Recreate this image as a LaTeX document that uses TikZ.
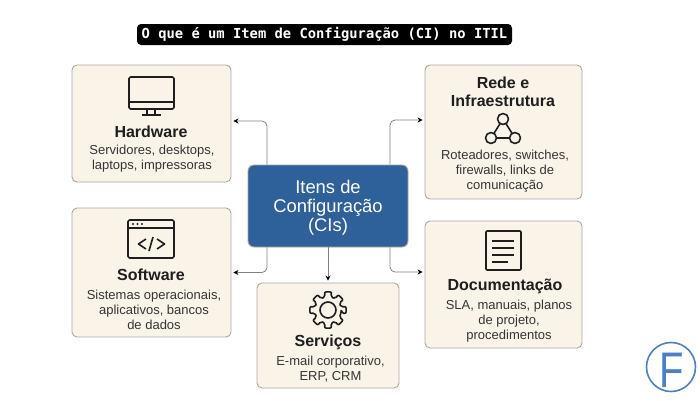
\documentclass[tikz,border=0pt]{standalone}
\usepackage{fontspec}
\setmainfont{Liberation Sans}
\newfontfamily\titlefont{DejaVu Sans Mono}
\usepackage{xcolor}
\usetikzlibrary{arrows.meta}
\definecolor{boxfill}{HTML}{FAF3E8}
\definecolor{boxline}{HTML}{A8A8A4}
\definecolor{ciblue}{HTML}{2E6099}
\definecolor{logoblue}{HTML}{4A80C8}
\definecolor{inkcol}{HTML}{1E1E1E}
\begin{document}
\begin{tikzpicture}[
  x=1pt, y=-1pt,
  box/.style={draw=boxline, fill=boxfill, rounded corners=5pt, line width=.9pt, inner sep=0pt},
  ci/.style={draw=boxline, fill=ciblue, rounded corners=6pt, line width=.9pt, inner sep=0pt},
  citext/.style={text=white, align=center, font=\fontsize{18.4}{19}\selectfont},
  head/.style={align=center, text=inkcol, font=\fontsize{16}{18}\selectfont\bfseries},
  body/.style={align=center, text=inkcol!90, font=\fontsize{13}{15.2}\selectfont},
  icon/.style={draw=inkcol, line width=1.6pt, line join=round},
  arr/.style={-{Stealth[length=5pt,width=5pt,black]}, draw=black!50, line width=.8pt,
              rounded corners=5pt, shorten >=2pt},
]
\useasboundingbox (0,0) rectangle (700,400);
\node[fill=black, rounded corners=4pt, text=white, minimum width=375pt, minimum height=21pt,
      inner sep=0pt, font=\titlefont\fontsize{13.8}{16}\selectfont\bfseries] (title) at (324.5,34.5)
  {O que é um Item de Configuração (CI) no ITIL};
\node[box, minimum width=159pt, minimum height=117pt] (hw) at (151.5,123.5) {};
\node[box, minimum width=157pt, minimum height=134pt] (net) at (503.5,132) {};
\node[box, minimum width=159pt, minimum height=129pt] (sw) at (151.5,272.5) {};
\node[box, minimum width=157pt, minimum height=127pt] (doc) at (503.5,284.5) {};
\node[box, minimum width=142pt, minimum height=105pt] (svc) at (328,335.5) {};
\node[ci, minimum width=160pt, minimum height=82pt] (cis) at (328,206) {};
\node[citext] (cistext) at (328,208) {Itens de\\Configuração\\(CIs)};
\node[head] (hwhead) at (151,132) {Hardware};
\node[body] (hwbody) at (152,158.5) {Servidores, desktops,\\laptops, impressoras};
\node[head] (nethead) at (503,92) {Rede e\\Infraestrutura};
\node[body] (netbody) at (505,171) {Roteadores, switches,\\firewalls, links de\\comunicação};
\node[head] (swhead) at (151,275) {Software};
\node[body] (swbody) at (154,310) {Sistemas operacionais,\\aplicativos, bancos\\de dados};
\node[head] (svchead) at (328,342) {Serviços};
\node[body] (svcbody) at (330.5,369.5) {E-mail corporativo,\\ERP, CRM};
\node[head] (dochead) at (505,286) {Documentação};
\node[body] (docbody) at (509,321) {SLA, manuais, planos\\de projeto,\\procedimentos};
\draw[arr] ([xshift=-61pt]cis.north) |- ([yshift=2.5pt]hw.east);
\draw[arr] ([xshift=62pt]cis.north) |- ([yshift=12pt]net.west);
\draw[arr] ([xshift=-61pt]cis.south) |- (sw.east);
\draw[arr] ([xshift=62pt]cis.south) |- ([yshift=12.5pt]doc.west);
\draw[arr] (cis.south) -- (svc.north);
\draw[icon, rounded corners=1.5pt] (129,77) rectangle (174,109);
\draw[icon] (129,102) -- (174,102) (147,109) -- (147,115) (155,109) -- (155,115) (142,115) -- (161,115);
\draw[icon] (491,138) -- (503,119) -- (515,138) -- cycle;
\foreach \cx/\cy in {503/119, 491/138, 515/138}
  \draw[icon, fill=boxfill] (\cx,\cy) circle (5.5pt);
\draw[icon, rounded corners=1.5pt] (128,220) rectangle (174,258);
\draw[icon] (128,228) -- (174,228);
\foreach \cx in {133,137.5,142}
  \fill[inkcol] (\cx,224) circle (1.1pt);
\draw[icon] (146,239) -- (138.5,244) -- (146,249) (149,251) -- (153,237) (157,239) -- (164.5,244) -- (157,249);
\draw[icon, rounded corners=2pt, shift={(328,310)}] (-11.25:13.5pt)
  \foreach \a in {0,45,...,315} { -- (\a-12:18.5pt) -- (\a+12:18.5pt) -- (\a+11.25:13.5pt) -- (\a+33.75:13.5pt) } -- cycle;
\draw[icon] (328,310) circle (8pt);
\draw[icon, rounded corners=1pt] (486,231) rectangle (521,270);
\foreach \ly/\lx in {241/514, 248/514, 255/514, 262/508}
  \draw[icon] (492,\ly) -- (\lx,\ly);
\node[circle, draw=logoblue, line width=1.6pt, minimum size=49pt, inner sep=0pt] (logo) at (671,367) {};
\node[text=logoblue, xscale=.8, inner sep=0pt, font=\fontsize{50}{50}\selectfont] (logof) at (672,370) {F};
\end{tikzpicture}
\end{document}
